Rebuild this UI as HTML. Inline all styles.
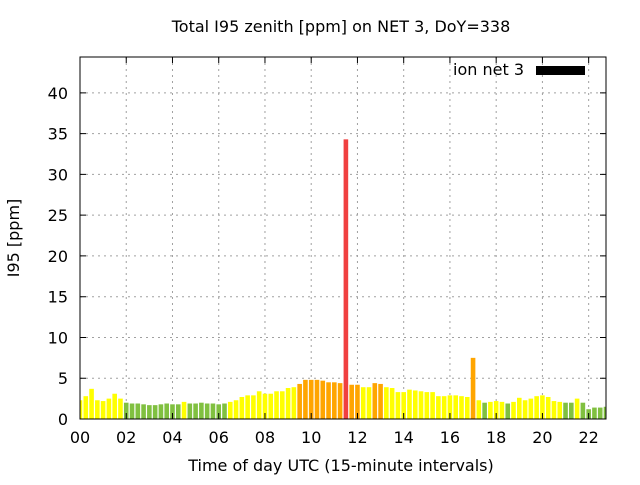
<!DOCTYPE html>
<html><head><meta charset="utf-8"><style>
body{margin:0;background:#fff;}
svg text{font-family:"DejaVu Sans","Liberation Sans",sans-serif;font-size:16px;fill:#000;}
</style></head><body>
<svg id="chart" width="640" height="480" xmlns="http://www.w3.org/2000/svg">
<rect width="640" height="480" fill="#fff"/>
<text x="341" y="32" text-anchor="middle">Total I95 zenith [ppm] on NET 3, DoY=338</text>
<text transform="translate(19,238) rotate(-90)" text-anchor="middle">I95 [ppm]</text>
<text x="341" y="471" text-anchor="middle">Time of day UTC (15-minute intervals)</text>
<g id="grid"></g>
<g id="bars"></g>
<g id="axes"></g>
<g>
<text x="524" y="75" text-anchor="end">ion net 3</text>
<rect x="536" y="66" width="49" height="9" fill="#000"/>
</g>
</svg>
<script>
const values=[2.3,2.8,3.7,2.3,2.2,2.5,3.1,2.5,2.0,1.9,1.9,1.8,1.7,1.7,1.8,1.9,1.8,1.8,2.1,1.9,1.9,2.0,1.9,1.9,1.8,1.9,2.1,2.3,2.7,2.9,2.9,3.4,3.1,3.1,3.4,3.4,3.8,3.9,4.3,4.8,4.8,4.8,4.7,4.5,4.5,4.4,34.3,4.2,4.2,3.9,3.9,4.4,4.3,3.9,3.8,3.3,3.3,3.6,3.5,3.4,3.3,3.3,2.8,2.8,2.9,2.9,2.8,2.7,7.5,2.3,2.0,2.1,2.2,2.1,1.9,2.1,2.6,2.3,2.5,2.8,2.9,2.7,2.2,2.1,2.0,2.0,2.5,2.0,1.2,1.4,1.4,1.5];
const xTicks=["00","02","04","06","08","10","12","14","16","18","20","22"];
const yTicks=[0,5,10,15,20,25,30,35,40];
const L=80,R=606,T=57,B=419,XMAX=22.75,YMAX=44.4;
const ns="http://www.w3.org/2000/svg";
const xs=h=>L+(h/XMAX)*(R-L);
const ys=v=>B-(v/YMAX)*(B-T);
function mk(tag,at,parent){const e=document.createElementNS(ns,tag);for(const k in at)e.setAttribute(k,at[k]);document.getElementById(parent).appendChild(e);return e;}
function col(v){return v<2.05?"#80c040":v<4.05?"#ffff00":v<8?"#ffa500":"#f04040";}
xTicks.forEach((t,i)=>{const x=xs(i*2);
 if(i>0){const g=mk("line",{x1:x,x2:x,y1:T,y2:B,stroke:"#a0a0a0","stroke-dasharray":"2,4"},"grid");
 }
 const tk=mk("path",{d:`M${x},${B}v-6M${x},${T}v6`,stroke:"#000"},"axes");
 
 const tx=mk("text",{x:x,y:443,"text-anchor":"middle"},"axes");tx.textContent=t;
 });
yTicks.forEach(v=>{const y=ys(v);
 if(v>0){const g=mk("line",{x1:L,x2:R,y1:y,y2:y,stroke:"#a0a0a0","stroke-dasharray":"2,4"},"grid");
 }
 const tk=mk("path",{d:`M${L},${y}h6M${R},${y}h-6`,stroke:"#000"},"axes");
 
 const tx=mk("text",{x:68,y:y+6,"text-anchor":"end"},"axes");tx.textContent=v;
 });
values.forEach((v,i)=>{const cx=xs(i*0.25);let x0=cx-2.3,x1=cx+2.3;x0=Math.max(x0,L);x1=Math.min(x1,R);
 const b=mk("rect",{x:x0,y:ys(v),width:x1-x0,height:B-ys(v),fill:col(v)},"bars");
 });
const fr=mk("rect",{x:L,y:T,width:R-L,height:B-T,fill:"none",stroke:"#000"},"axes");

</script>
</body></html>
